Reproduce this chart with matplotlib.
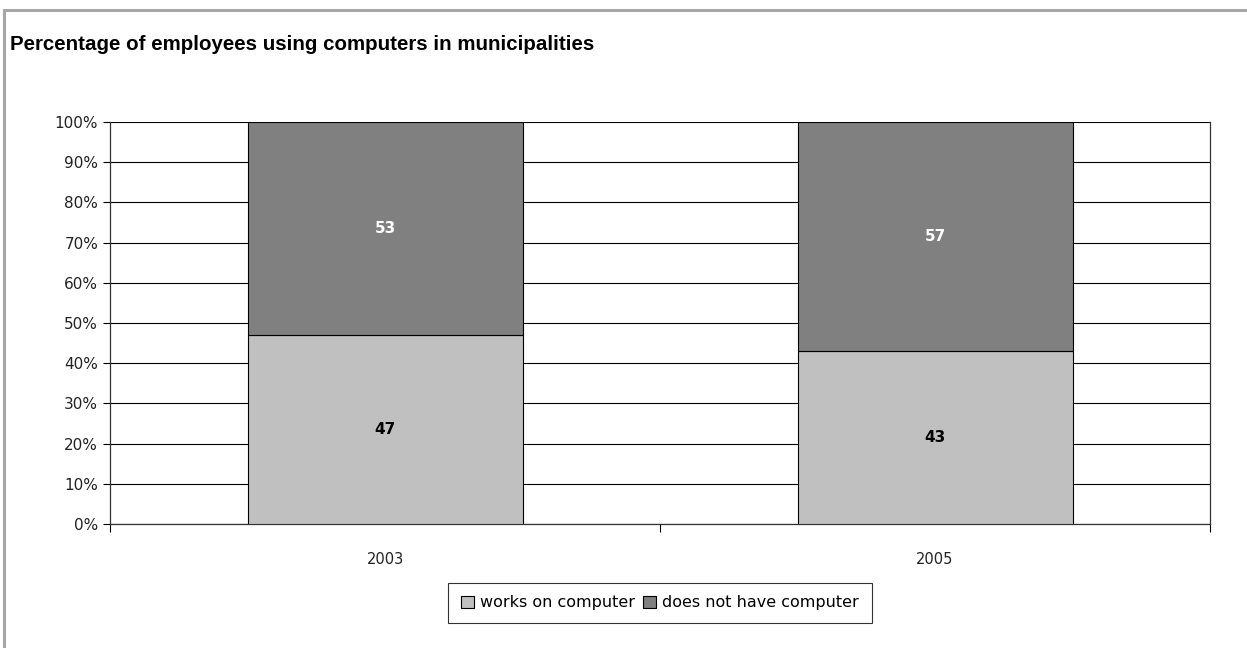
import matplotlib.pyplot as plt
from matplotlib.patches import Rectangle

years = ["2003", "2005"]
works_on = [47, 43]
no_computer = [53, 57]
series_names = ["works on computer", "does not have computer"]

light = "#c0c0c0"
dark = "#808080"

fig = plt.figure(figsize=(12.47, 6.48), dpi=100)
fig.patches.append(Rectangle((4 / 1247, -0.1), 1.2, 1 - 10 / 648 + 0.1,
                             transform=fig.transFigure, fill=False,
                             edgecolor="#a6a6a6", linewidth=2.2))
fig.text(10 / 1247, 1 - 45 / 648, "Percentage of employees using computers in municipalities",
         fontsize=14.8, fontweight="bold", family=["Liberation Sans", "DejaVu Sans"],
         va="center", ha="left")

ax = fig.add_axes([110 / 1247, 1 - 524 / 648, 1100 / 1247, 402 / 648])
x = range(len(years))
b1 = ax.bar(x, works_on, width=0.5, color=light, edgecolor="black", linewidth=0.8,
            label=series_names[0], zorder=3)
b2 = ax.bar(x, no_computer, width=0.5, bottom=works_on, color=dark, edgecolor="black",
            linewidth=0.8, label=series_names[1], zorder=3)

for i in x:
    ax.text(i, works_on[i] / 2, str(works_on[i]), ha="center", va="center",
            fontsize=11, fontweight="bold", color="black", zorder=4)
    ax.text(i, works_on[i] + no_computer[i] / 2, str(no_computer[i]), ha="center",
            va="center", fontsize=11, fontweight="bold", color="white", zorder=4)

ax.set_xlim(-0.5, 1.5)
ax.set_ylim(0, 100)
ax.set_yticks(range(0, 101, 10))
ax.set_yticklabels([f"{v}%" for v in range(0, 101, 10)], fontsize=11, color="#222222")
ax.yaxis.grid(True, color="black", linewidth=0.8, zorder=1)

ax.set_xticks([-0.5, 0.5, 1.5])
ax.set_xticklabels([])
ax.set_xticks(list(x), minor=True)
ax.set_xticklabels(years, minor=True, fontsize=10.5, color="#222222")
ax.tick_params(axis="x", which="major", length=6, width=0.8, direction="out")
ax.tick_params(axis="x", which="minor", length=0, pad=20)
ax.tick_params(axis="y", length=5, width=0.8, direction="out")

for side in ["left", "bottom", "right"]:
    ax.spines[side].set_color("#333333")
    ax.spines[side].set_linewidth(0.9)
ax.spines["top"].set_visible(False)

leg = fig.legend(handles=[b1, b2], labels=series_names, loc="center",
                 bbox_to_anchor=(660 / 1247, 1 - 603 / 648), ncol=2, frameon=True,
                 fancybox=False, edgecolor="black", fontsize=11.5, handlelength=0.8,
                 handleheight=0.8, handletextpad=0.4, columnspacing=0.5,
                 borderpad=0.8)
leg.get_frame().set_linewidth(0.8)

fig.savefig("out.png", dpi=100)
